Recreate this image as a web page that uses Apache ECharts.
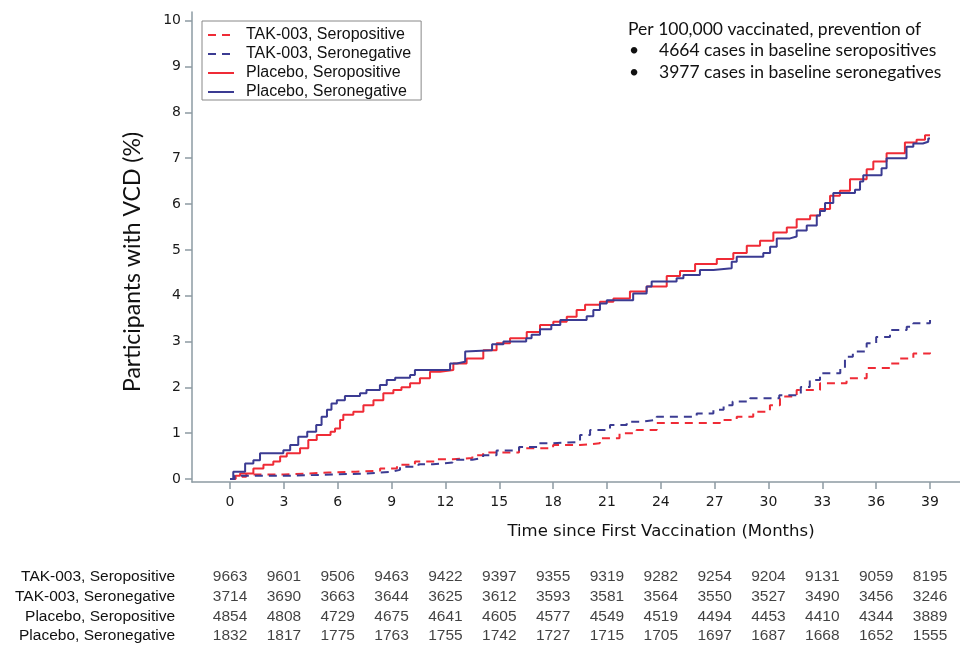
<!DOCTYPE html>
<html>
<head>
<meta charset="utf-8">
<script src="https://cdn.jsdelivr.net/npm/echarts@6/dist/echarts.min.js"></script>
<style>html,body{margin:0;padding:0;background:#fff}#c{width:960px;height:646px}</style>
</head>
<body>
<div id="c"></div>
<script>
// ---------- data ----------
const seriesNames = ['TAK-003, Seropositive', 'TAK-003, Seronegative', 'Placebo, Seropositive', 'Placebo, Seronegative'];
const xTicks = [0, 3, 6, 9, 12, 15, 18, 21, 24, 27, 30, 33, 36, 39];
const yTicks = [0, 1, 2, 3, 4, 5, 6, 7, 8, 9, 10];

// [month, cumulative % with VCD] step points
const takSeropos = [[0,0],[0.3,0.05],[0.9,0.1],[3.0,0.14],[5.5,0.16],[7.0,0.18],[8.36,0.23],[9.3,0.31],[10.3,0.38],[11.5,0.43],[12.4,0.46],[13.5,0.52],[14.1,0.58],[16.1,0.67],[18.0,0.74],[19.5,0.78],[20.6,0.89],[21.7,1.0],[22.65,1.07],[23.77,1.22],[27.3,1.29],[28.23,1.36],[29.15,1.47],[30.08,1.61],[30.64,1.8],[31.57,1.94],[32.87,2.09],[34.35,2.2],[35.47,2.42],[36.77,2.52],[37.3,2.63],[38.07,2.74],[39,2.76]];
const takSeroneg = [[0,0],[0.25,0.07],[2.4,0.07],[3.2,0.1],[5.8,0.12],[7.6,0.16],[9.0,0.2],[9.47,0.27],[10.5,0.32],[11.3,0.36],[12.4,0.42],[13.5,0.46],[14.1,0.52],[14.85,0.62],[16.1,0.7],[17.2,0.78],[18.0,0.81],[19.5,0.96],[20.06,1.07],[21.17,1.18],[22.1,1.25],[22.85,1.29],[23.77,1.36],[26.0,1.43],[26.93,1.51],[27.5,1.61],[28.0,1.69],[28.97,1.76],[30.6,1.83],[31.8,2.01],[32.3,2.16],[32.87,2.31],[34.0,2.42],[34.26,2.67],[34.7,2.78],[35.47,2.96],[36.0,3.1],[36.77,3.25],[37.7,3.32],[38.07,3.4],[39,3.47]];
const plaSeropos = [[0,0],[0.3,0.07],[0.56,0.12],[1.3,0.23],[1.86,0.31],[2.41,0.38],[2.79,0.49],[3.16,0.56],[3.9,0.67],[4.36,0.85],[4.83,0.96],[5.6,1.03],[5.85,1.1],[6.13,1.29],[6.31,1.4],[6.87,1.47],[7.43,1.61],[7.99,1.72],[8.54,1.87],[9.1,1.94],[9.55,2.0],[10.03,2.09],[10.58,2.2],[11.14,2.34],[11.7,2.38],[12.44,2.52],[13.18,2.63],[14.11,2.81],[14.85,2.96],[15.6,3.07],[16.53,3.21],[17.27,3.36],[18.01,3.43],[18.76,3.54],[19.31,3.69],[19.78,3.8],[20.61,3.87],[21.36,3.94],[22.28,4.09],[23.21,4.2],[24.33,4.43],[25.07,4.54],[25.91,4.69],[27.12,4.8],[28.04,4.93],[28.79,5.09],[29.53,5.2],[30.27,5.38],[31.02,5.49],[31.57,5.67],[32.32,5.75],[32.87,5.89],[33.43,6.18],[33.98,6.29],[34.54,6.54],[35.47,6.76],[35.84,6.93],[36.58,7.11],[37.6,7.34],[38.25,7.4],[38.72,7.5],[39,7.5]];
const plaSeroneg = [[0,0],[0.18,0.16],[0.84,0.34],[1.3,0.41],[1.67,0.56],[2.97,0.63],[3.35,0.74],[3.8,0.92],[4.3,1.03],[4.8,1.18],[5.1,1.36],[5.4,1.51],[5.65,1.65],[5.95,1.72],[6.4,1.81],[7.24,1.87],[7.6,1.94],[8.35,2.05],[8.73,2.16],[9.2,2.21],[10.03,2.27],[10.3,2.38],[12.26,2.52],[12.63,2.56],[13.1,2.78],[13.2,2.81],[14.6,2.94],[15.23,3.0],[16.5,3.07],[16.8,3.15],[17.27,3.27],[17.9,3.36],[18.4,3.47],[19.87,3.55],[20.24,3.69],[20.61,3.83],[20.99,3.9],[22.46,4.05],[23.21,4.2],[23.49,4.31],[24.88,4.38],[25.26,4.45],[26.18,4.56],[26.93,4.6],[27.95,4.74],[28.23,4.85],[29.71,4.93],[30.09,5.07],[30.46,5.25],[31.2,5.29],[31.57,5.42],[32.13,5.53],[32.69,5.75],[32.87,5.85],[33.15,6.02],[33.61,6.24],[34.82,6.31],[35.1,6.49],[35.28,6.63],[36.3,6.78],[36.58,7.0],[37.69,7.25],[38.07,7.32],[38.6,7.36],[38.9,7.43],[39,7.43]];

// number at risk at each x tick
const riskTakSeropos = [9663, 9601, 9506, 9463, 9422, 9397, 9355, 9319, 9282, 9254, 9204, 9131, 9059, 8195];
const riskTakSeroneg = [3714, 3690, 3663, 3644, 3625, 3612, 3593, 3581, 3564, 3550, 3527, 3490, 3456, 3246];
const riskPlaSeropos = [4854, 4808, 4729, 4675, 4641, 4605, 4577, 4549, 4519, 4494, 4453, 4410, 4344, 3889];
const riskPlaSeroneg = [1832, 1817, 1775, 1763, 1755, 1742, 1727, 1715, 1705, 1697, 1687, 1668, 1652, 1555];

const noteLines = ['Per 100,000 vaccinated, prevention of', '4664 cases in baseline seropositives', '3977 cases in baseline seronegatives'];

// ---------- chart ----------
const RED = '#ef2b36', BLUE = '#3b3b92', AXIS = '#8d9ba3';
const curves = [takSeropos, takSeroneg, plaSeropos, plaSeroneg];
const colors = [RED, BLUE, RED, BLUE];
const dashed = [true, true, false, false];
const riskRows = [riskTakSeropos, riskTakSeroneg, riskPlaSeropos, riskPlaSeroneg];

const riskData = [];
riskRows.forEach((row, r) => row.forEach((v, i) => riskData.push([xTicks[i], seriesNames[r], v])));

const chart = echarts.init(document.getElementById('c'), null, {renderer: 'canvas'});
const XMIN = -2.12, XMAX = 40.67;
const NOTE_FONT = '17.5px Lato';

chart.setOption({
  animation: false,
  backgroundColor: '#fff',
  grid: [
    {left: 192, right: 0, top: 12, bottom: 164},
    {left: 192, right: 0, top: 567, bottom: 0}
  ],
  xAxis: [{
    type: 'value', gridIndex: 0, min: XMIN, max: XMAX,
    splitLine: {show: false},
    axisLine: {onZero: false, lineStyle: {color: AXIS, width: 1.5}},
    axisTick: {show: true, length: 7, lineStyle: {color: AXIS, width: 1.5}, customValues: xTicks},
    axisLabel: {customValues: xTicks, margin: 13, color: '#1a1a1a', fontSize: 14, fontFamily: 'DejaVu Sans'}
  }, {
    type: 'value', gridIndex: 1, min: XMIN, max: XMAX, show: false
  }],
  yAxis: [{
    type: 'value', gridIndex: 0, min: -0.065, max: 10.19,
    splitLine: {show: false},
    axisLine: {show: true, onZero: false, lineStyle: {color: AXIS, width: 1.5}},
    axisTick: {show: true, length: 7, lineStyle: {color: AXIS, width: 1.5}, customValues: yTicks},
    axisLabel: {customValues: yTicks, margin: 11, color: '#1a1a1a', fontSize: 14, fontFamily: 'DejaVu Sans'}
  }, {
    type: 'category', gridIndex: 1, inverse: true, data: seriesNames,
    axisLine: {show: false}, axisTick: {show: false}, splitLine: {show: false},
    axisLabel: {interval: 0, hideOverlap: false, margin: 17, color: '#111', fontSize: 15.5, fontFamily: 'Liberation Sans'}
  }],
  legend: {
    left: 202, top: 21, orient: 'vertical',
    data: seriesNames,
    itemWidth: 26, itemHeight: 14, itemGap: 3,
    padding: [6, 10, 0, 5],
    borderColor: '#888', borderWidth: 1,
    itemStyle: {opacity: 0},
    textStyle: {fontSize: 16, fontFamily: 'Liberation Sans', color: '#111', padding: [0, 0, 0, 7], lineHeight: 14}
  },
  series: curves.map((d, i) => ({
    name: seriesNames[i], type: 'line', xAxisIndex: 0, yAxisIndex: 0,
    data: d, step: 'end', symbol: 'none', showSymbol: false,
    color: colors[i],
    lineStyle: {color: colors[i], width: 2, type: dashed[i] ? [8, 6] : 'solid'},
    z: dashed[i] ? 3 : 2
  })).concat([{
    type: 'scatter', xAxisIndex: 1, yAxisIndex: 1,
    data: riskData, symbolSize: 1, itemStyle: {color: 'rgba(0,0,0,0)'},
    label: {show: true, position: 'inside', formatter: p => String(p.value[2]), color: '#111', fontSize: 15.5, fontFamily: 'Liberation Sans'},
    silent: true
  }]),
  graphic: [
    {type: 'text', x: 133, y: 262, rotation: Math.PI / 2,
     style: {text: 'Participants with VCD (%)', font: '23px Lato', fill: '#111', textAlign: 'center', textVerticalAlign: 'middle'}},
    {type: 'text', x: 661, y: 532,
     style: {text: 'Time since First Vaccination (Months)', font: '16.5px "DejaVu Sans"', fill: '#111', textAlign: 'center', textVerticalAlign: 'middle'}},
    {type: 'text', x: 628, y: 29,
     style: {text: noteLines[0], font: NOTE_FONT, fill: '#111', textAlign: 'left', textVerticalAlign: 'middle'}},
    {type: 'text', x: 629, y: 50,
     style: {text: '•', font: NOTE_FONT, fill: '#111', textAlign: 'left', textVerticalAlign: 'middle'}},
    {type: 'text', x: 659, y: 50,
     style: {text: noteLines[1], font: NOTE_FONT, fill: '#111', textAlign: 'left', textVerticalAlign: 'middle'}},
    {type: 'text', x: 629, y: 72,
     style: {text: '•', font: NOTE_FONT, fill: '#111', textAlign: 'left', textVerticalAlign: 'middle'}},
    {type: 'text', x: 659, y: 72,
     style: {text: noteLines[2], font: NOTE_FONT, fill: '#111', textAlign: 'left', textVerticalAlign: 'middle'}}
  ]
});
</script>
</body>
</html>
